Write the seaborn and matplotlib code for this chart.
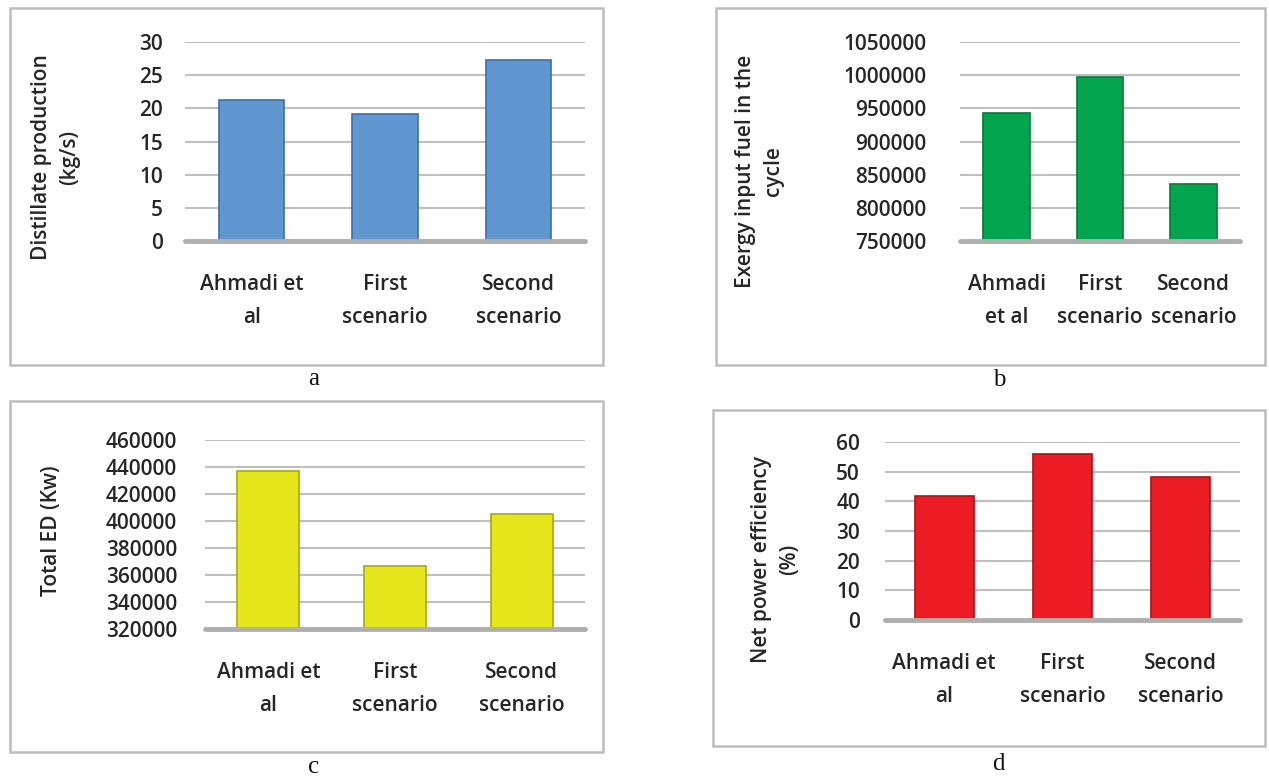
import matplotlib
matplotlib.use("Agg")
import matplotlib.pyplot as plt
import seaborn as sns
import pandas as pd
import numpy as np
from matplotlib.patches import Rectangle

sns.set_theme(style="white")
plt.rcParams['font.family'] = ['Open Sans', 'DejaVu Sans']

# ---- data ----
cats_a = ["Ahmadi et\nal", "First\nscenario", "Second\nscenario"]
cats_b = ["Ahmadi\net al", "First\nscenario", "Second\nscenario"]
distillate = [21.2, 19.2, 27.3]
exergy_fuel = [943000, 997000, 836000]
total_ed = [437000, 367000, 405000]
net_eff = [41.7, 55.8, 48.3]

W, H = 1269, 780
fig = plt.figure(figsize=(W / 100, H / 100), dpi=100)
fig.patch.set_facecolor("white")
TXT = "#262626"
FS = 15
WT = "semibold"


def fx(x):
    return x / W


def fy(y):
    return 1 - y / H


def box(x0, y0, x1, y1):
    fig.patches.append(Rectangle((fx(x0), fy(y1)), fx(x1) - fx(x0), fy(y0) - fy(y1),
                                 transform=fig.transFigure, fill=False,
                                 edgecolor="#BDBDBD", lw=1.8, zorder=0))


def panel(px0, px1, py_top, py_bot, cats, vals, color, edge, ylim, step, ylabel,
          ylab_xy, ypad, letter, letter_xy, width=0.49):
    ax = fig.add_axes([fx(px0), fy(py_bot), fx(px1) - fx(px0), fy(py_top) - fy(py_bot)])
    df = pd.DataFrame({"cat": cats, "val": vals})
    sns.barplot(data=df, x="cat", y="val", color=color, saturation=1, width=width,
                edgecolor=edge, linewidth=1.2, ax=ax, zorder=3)
    ax.set_ylim(*ylim)
    ticks = np.arange(ylim[0], ylim[1] + step / 2, step)
    ax.set_yticks(ticks)
    ax.set_yticklabels([f"{int(t)}" for t in ticks], fontsize=FS, color=TXT,
                       fontweight=WT)
    ax.tick_params(axis="y", length=0, pad=ypad)
    ax.tick_params(axis="x", length=0, pad=24, labelsize=FS, labelcolor=TXT)
    for lbl in ax.get_xticklabels():
        lbl.set_linespacing(1.75)
        lbl.set_fontweight(WT)
    ax.set_xlabel("")
    ax.set_ylabel(ylabel, fontsize=FS, color=TXT, linespacing=1.45, fontweight=WT)
    ax.yaxis.set_label_coords((ylab_xy[0] - px0) / (px1 - px0),
                              1 - (ylab_xy[1] - py_top) / (py_bot - py_top))
    for t in ticks[1:]:
        ax.axhline(t, color="#BFBFBF", lw=1.5, zorder=1)
    ax.axhline(ylim[0], color="#AFAFAF", lw=3.5, zorder=4, clip_on=False)
    for s in ax.spines.values():
        s.set_visible(False)
    ax.set_facecolor("none")
    fig.text(fx(letter_xy[0]), fy(letter_xy[1]), letter, ha="center", va="center",
             fontsize=18, family="Liberation Serif", color="#111111")
    return ax


# panel a
box(10, 8, 603, 365)
panel(185, 585, 42, 241, cats_a, distillate, "#6197D1", "#3E6FA6", (0, 30), 5,
      "Distillate production\n(kg/s)", (80, 157), 16, "a", (314, 379))
# panel b
box(716, 8, 1265, 365)
panel(960, 1240, 42, 241, cats_b, exergy_fuel, "#03A64F", "#037A3A", (750000, 1050000), 50000,
      "Exergy input fuel in the\ncycle", (784, 171), 24, "b", (999, 380), width=0.5)
# panel c
box(10, 401, 603, 752)
panel(205, 585, 440, 629, cats_a, total_ed, "#E6E61C", "#A8A810", (320000, 460000), 20000,
      "Total ED (Kw)", (62, 531), 20, "c", (314, 767))
# panel d
box(713, 410, 1265, 746)
panel(885, 1240, 442, 620, cats_a, net_eff, "#EC1C24", "#A81218", (0, 60), 10,
      "Net power efficiency\n(%)", (800, 559), 18, "d", (998, 764), width=0.5)

fig.savefig("out.png", dpi=100, facecolor="white")
